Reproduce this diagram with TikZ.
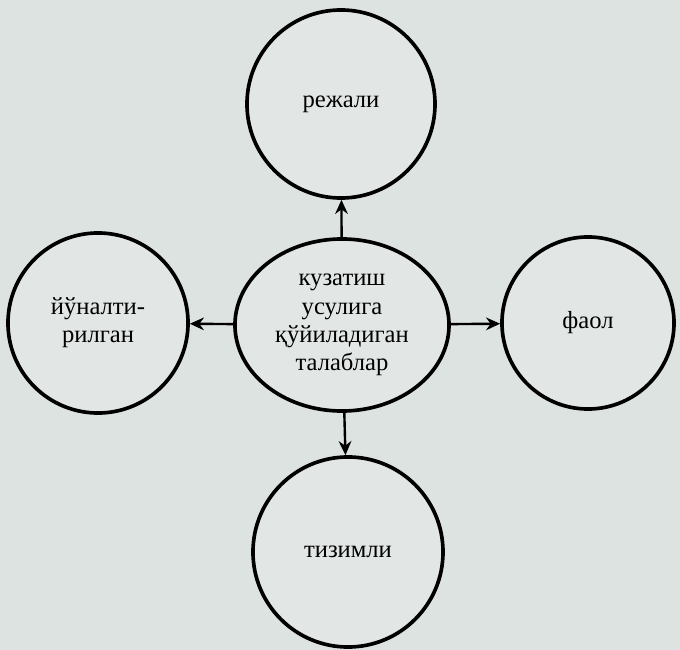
\documentclass[tikz,border=0pt]{standalone}
\usepackage{fontspec}
\setmainfont{Liberation Serif}
\usepackage{xcolor}
\usetikzlibrary{shapes.geometric,arrows.meta}
\definecolor{paper}{RGB}{221,227,224}
\definecolor{paperlight}{RGB}{226,231,229}
\tikzset{
    % Requirement circles
    req/.style={circle, draw, line width=2.6pt, fill=paperlight, align=center, font=\fontsize{17.5}{20}\selectfont},
    % Central ellipse
    centre/.style={ellipse, draw, line width=2.6pt, fill=paperlight, align=center, inner sep=0pt, minimum width=5.35cm, minimum height=4.3cm, font=\fontsize{17.5}{20}\selectfont},
    link/.style={-{Stealth[length=10pt, width=9pt]}, line width=1.7pt}
}
\begin{document}
\begin{tikzpicture}[x=0.025cm, y=-0.025cm]
% Page
\fill[paper] (0,0) rectangle (680,650);
\useasboundingbox (0,0) rectangle (680,650);

% Central node
\node[centre] (req) at (342,325) {кузатиш\\усулига\\қўйиладиган\\талаблар};

% Four requirements
\node[req, minimum size=4.7cm] (planned) at (341,104) {режали};
\node[req, minimum size=4.5cm] (directed) at (98,323) {йўналти-\\рилган};
\node[req, minimum size=4.3cm] (active) at (588,323) {фаол};
\node[req, minimum size=4.75cm] (system) at (348,552) {тизимли};

% Connections
\draw[link] (req) -- (planned);
\draw[link] (req) -- (directed);
\draw[link] (req) -- (active);
\draw[link] (req) -- (system);
\end{tikzpicture}
\end{document}
